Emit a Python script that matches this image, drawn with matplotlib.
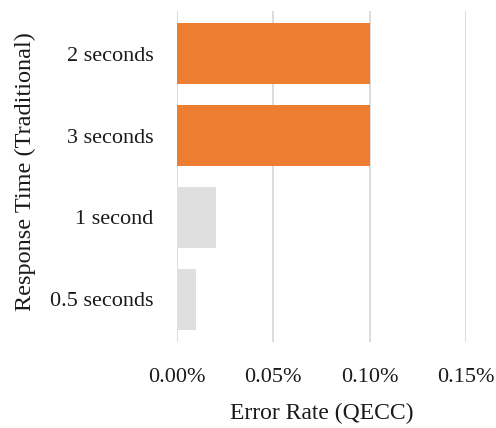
import matplotlib
matplotlib.use("Agg")
import matplotlib.pyplot as plt
from matplotlib.ticker import FuncFormatter

# Error rate by response time (fractions, shown as percent)
categories = ["2 seconds", "3 seconds", "1 second", "0.5 seconds"]
error_rate = [0.0010, 0.0010, 0.0002, 0.0001]
highlight = [True, True, False, False]
x_ticks = [0.0, 0.0005, 0.0010, 0.0015]

ORANGE = "#ED7D31"
GREY = "#DFDFDF"
GRID = "#D9D9D9"

plt.rcParams["font.family"] = ["Liberation Serif", "DejaVu Serif"]

fig = plt.figure(figsize=(4.96, 4.28), dpi=100)
ax = fig.add_axes([177 / 496, 1 - 342 / 428, (466 - 177) / 496, (342 - 11) / 428])

ypos = list(range(len(categories)))[::-1]
colors = [ORANGE if h else GREY for h in highlight]
ax.barh(ypos, error_rate, height=0.745, color=colors, zorder=2)

ax.set_xlim(0, 0.0015)
ax.set_ylim(-0.52, 3.52)
ax.set_xticks(x_ticks)
ax.xaxis.set_major_formatter(FuncFormatter(lambda v, _: f"{v * 100:.2f}%"))
ax.set_yticks(ypos)
ax.set_yticklabels(categories)

ax.grid(axis="x", color=GRID, linewidth=1.3, zorder=0)
ax.grid(axis="y", visible=False)
for s in ax.spines.values():
    s.set_visible(False)
ax.tick_params(axis="both", length=0, labelsize=16, colors="#1a1a1a")
ax.tick_params(axis="x", pad=19)
ax.tick_params(axis="y", pad=17)

ax.set_xlabel("Error Rate (QECC)", fontsize=17, color="#1a1a1a", labelpad=11)
ax.set_ylabel("Response Time (Traditional)", fontsize=17.5, color="#1a1a1a")
ax.yaxis.set_label_coords(-141 / 289, 0.514)

fig.savefig("out.png", dpi=100, facecolor="white")
